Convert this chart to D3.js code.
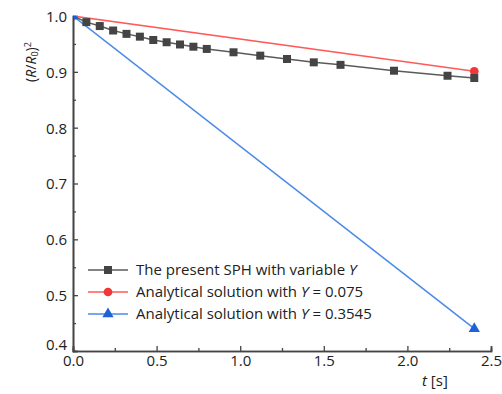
<!DOCTYPE html>
<html>
<head>
<meta charset="utf-8">
<script src="https://cdn.jsdelivr.net/npm/d3@7"></script>
<style>
  body { margin: 0; background: #fff; }
  text { font-family: "Open Sans", "Noto Sans", sans-serif; fill: #222; }
</style>
</head>
<body>
<div id="chart"></div>
<script>
// SPH series
const sphT = [0, 0.08, 0.16, 0.24, 0.32, 0.40, 0.48, 0.56, 0.64, 0.72, 0.80, 0.96, 1.12, 1.28, 1.44, 1.60, 1.92, 2.24, 2.40];
const sphV = [1.0, 0.989, 0.982, 0.974, 0.968, 0.963, 0.957, 0.953, 0.949, 0.945, 0.941, 0.935, 0.929, 0.923, 0.917, 0.9125, 0.902, 0.893, 0.889];
const redT = [0, 2.4];
const redV = [1.0, 0.901];
const blueT = [0, 2.4];
const blueV = [1.0, 0.44];
const xTicks = [0, 0.5, 1.0, 1.5, 2.0, 2.5];
const yTicks = [0.4, 0.5, 0.6, 0.7, 0.8, 0.9, 1.0];

const width = 502, height = 394;
const margin = { top: 16, right: 11, bottom: 43, left: 73 };
const w = width - margin.left - margin.right;
const h = height - margin.top - margin.bottom;

const svg = d3.select('#chart').append('svg')
  .attr('width', width)
  .attr('height', height);

const g = svg.append('g')
  .attr('transform', `translate(${margin.left},${margin.top})`);

const x = d3.scaleLinear().domain([0, 2.5]).range([0, w]);
const y = d3.scaleLinear().domain([0.4, 1.0]).range([h, 0]);

svg.append('defs').append('clipPath').attr('id', 'clip')
  .append('rect').attr('x', 1).attr('y', 0).attr('width', w + 10).attr('height', h);

const axisColor = '#444';

// minor ticks
const xAxisMinor = d3.axisBottom(x).tickValues(d3.range(0.25, 2.5, 0.5)).tickSize(-3).tickFormat('');
const yAxisMinor = d3.axisLeft(y).tickValues(d3.range(0.45, 1.0, 0.1)).tickSize(-3).tickFormat('');
g.append('g').attr('transform', `translate(0,${h})`).call(xAxisMinor);
g.append('g').call(yAxisMinor);

const xAxis = d3.axisBottom(x).tickValues(xTicks).tickSize(-5).tickPadding(6).tickFormat(d3.format('.1f'));
const yAxis = d3.axisLeft(y).tickValues(yTicks).tickSize(-5).tickPadding(6).tickFormat(d3.format('.1f'));

g.append('g').attr('class', 'xaxis').attr('transform', `translate(0,${h})`).call(xAxis);
g.append('g').attr('class', 'yaxis').call(yAxis);

g.selectAll('.domain').attr('stroke', axisColor).attr('stroke-width', 1.6);
g.selectAll('.tick line').attr('stroke', axisColor).attr('stroke-width', 1.3);
g.selectAll('.tick text').style('font-size', '15px').style('fill', '#222');
g.select('.yaxis').selectAll('.tick text').attr('dy', d => d === 0.4 ? '-0.1em' : '0.36em');
g.select('.xaxis').selectAll('.tick text').attr('dy', '0.62em');

const plot = g.append('g').attr('clip-path', 'url(#clip)');

const line = d3.line().x(d => x(d[0])).y(d => y(d[1]));

const redColor = '#ff5a5a', redMark = '#f03838';
const blueColor = '#4a8ae8', blueMark = '#1f62d8';
const grayColor = '#5a5a5a', grayMark = '#444';

const redData = redT.map((t, i) => [t, redV[i]]);
const blueData = blueT.map((t, i) => [t, blueV[i]]);
const sphData = sphT.map((t, i) => [t, sphV[i]]);

plot.append('path').datum(redData).attr('fill', 'none').attr('stroke', redColor).attr('stroke-width', 1.5).attr('d', line);
plot.append('path').datum(blueData).attr('fill', 'none').attr('stroke', blueColor).attr('stroke-width', 1.5).attr('d', line);
plot.append('path').datum(sphData).attr('fill', 'none').attr('stroke', grayColor).attr('stroke-width', 1.5).attr('d', line);

const sq = d3.symbol().type(d3.symbolSquare).size(64);
const ci = d3.symbol().type(d3.symbolCircle).size(60);
const tr = d3.symbol().type(d3.symbolTriangle).size(55);

plot.selectAll('.red').data(redData).join('path')
  .attr('transform', d => `translate(${x(d[0])},${y(d[1])})`)
  .attr('d', ci).attr('fill', redMark);
plot.selectAll('.blue').data(blueData).join('path')
  .attr('transform', d => `translate(${x(d[0])},${y(d[1])})`)
  .attr('d', tr).attr('fill', blueMark);
plot.selectAll('.sph').data(sphData.slice(1)).join('path')
  .attr('transform', d => `translate(${x(d[0])},${y(d[1])})`)
  .attr('d', sq).attr('fill', grayMark);

// legend
const legendItems = [
  { color: grayColor, mark: grayMark, sym: sq, pre: 'The present SPH with variable ', it: 'Y', post: '' },
  { color: redColor, mark: redMark, sym: ci, pre: 'Analytical solution with ', it: 'Y', post: ' = 0.075' },
  { color: blueColor, mark: blueMark, sym: tr, pre: 'Analytical solution with ', it: 'Y', post: ' = 0.3545' }
];
const legend = svg.append('g').attr('transform', 'translate(88,270)');
legendItems.forEach((d, i) => {
  const row = legend.append('g').attr('transform', `translate(0,${i * 22})`);
  row.append('line').attr('x1', 0).attr('x2', 40).attr('stroke', d.color).attr('stroke-width', 1.5);
  row.append('path').attr('transform', 'translate(20,0)').attr('d', d.sym).attr('fill', d.mark);
  const t = row.append('text').attr('x', 48).attr('dy', '0.36em').style('font-size', '15px');
  t.append('tspan').text(d.pre);
  t.append('tspan').style('font-style', 'italic').text(d.it);
  t.append('tspan').text(d.post);
});

// axis titles
const xt = svg.append('text').attr('x', 422).attr('y', 386).style('font-size', '15px');
xt.append('tspan').style('font-style', 'italic').text('t');
xt.append('tspan').text(' [s]');

const yt = svg.append('text').attr('transform', 'translate(36,62) rotate(-90)')
  .attr('text-anchor', 'middle').style('font-size', '14px');
yt.append('tspan').text('(');
yt.append('tspan').style('font-style', 'italic').text('R');
yt.append('tspan').text('/');
yt.append('tspan').style('font-style', 'italic').text('R');
yt.append('tspan').attr('baseline-shift', '-25%').style('font-size', '9px').text('0');
yt.append('tspan').text(')');
yt.append('tspan').attr('baseline-shift', '60%').style('font-size', '9px').text('2');
</script>
</body>
</html>
